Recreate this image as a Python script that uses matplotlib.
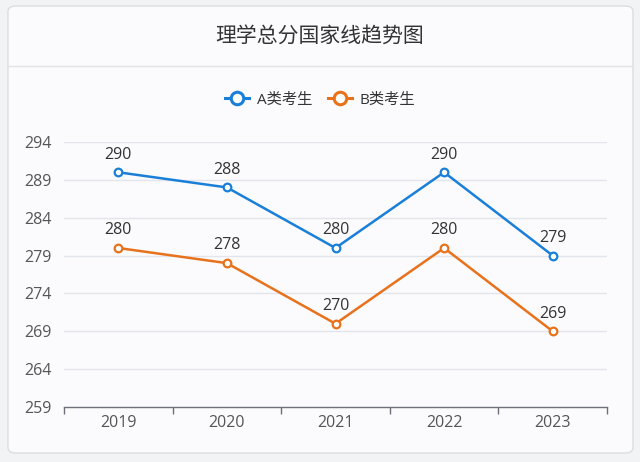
import matplotlib
matplotlib.use("Agg")
import matplotlib.pyplot as plt
from matplotlib.patches import FancyBboxPatch
from matplotlib.lines import Line2D
import numpy as np

plt.rcParams['font.family'] = ['Open Sans', 'Noto Sans CJK SC', 'DejaVu Sans']
CJK = ['Noto Sans CJK SC', 'DejaVu Sans']

title = "理学总分国家线趋势图"
years = ["2019", "2020", "2021", "2022", "2023"]
series_names = ["A类考生", "B类考生"]
a_values = [290, 288, 280, 290, 279]
b_values = [280, 278, 270, 280, 269]
y_ticks = [259, 264, 269, 274, 279, 284, 289, 294]

colors = ["#1a7fd8", "#e8721c"]

fig = plt.figure(figsize=(6.4, 4.62), dpi=100)
fig.patch.set_facecolor("#f2f3f5")

# card
card = FancyBboxPatch((8/640, 1-453/462), (633-8)/640, (453-6)/462,
                      boxstyle="round,pad=0,rounding_size=0.012",
                      transform=fig.transFigure, facecolor="#fbfbfd",
                      edgecolor="#dcdde2", linewidth=1.0, zorder=-10)
fig.patches.append(card)
fig.add_artist(Line2D([8/640, 633/640], [1-66/462, 1-66/462], transform=fig.transFigure,
                      color="#e2e3e8", linewidth=1.0, zorder=-9))

fig.text(0.5, 1-36/462, title, ha="center", va="center", fontsize=15,
         color="#333333", family=CJK)

ax = fig.add_axes([64/640, 1-407/462, (607-64)/640, (407-142)/462])
ax.set_zorder(5)
ax.set_facecolor("none")
x = np.arange(len(years))
handles = []
for vals, c, name in zip([a_values, b_values], colors, series_names):
    ax.plot(x, vals, color=c, linewidth=1.8, marker="o", markersize=5.5,
            markerfacecolor="white", markeredgecolor=c, markeredgewidth=1.6,
            zorder=3, clip_on=False)
    handles.append(Line2D([], [], color=c, linewidth=2.2, marker="o", markersize=9,
                          markerfacecolor="white", markeredgecolor=c,
                          markeredgewidth=2.2, label=name))
    for xi, v in zip(x, vals):
        ax.annotate(str(v), (xi, v), xytext=(0, 7), textcoords="offset points",
                    ha="center", va="bottom", fontsize=11.5, color="#333333")

ax.set_xlim(-0.5, len(years) - 0.5)
ax.set_ylim(y_ticks[0], y_ticks[-1])
ax.set_yticks(y_ticks)
ax.set_yticklabels([str(t) for t in y_ticks], fontsize=11.5, color="#555555")
ax.set_xticks(x)
ax.set_xticklabels(years, fontsize=11.5, color="#555555")
ax.set_xticks(np.arange(-0.5, len(years)), minor=True)
ax.tick_params(axis="x", which="major", length=0, pad=6)
ax.tick_params(axis="x", which="minor", length=5, color="#6e7079", width=1)
ax.tick_params(axis="y", length=0, pad=9)
for s in ["top", "right", "left"]:
    ax.spines[s].set_visible(False)
ax.spines["bottom"].set_color("#6e7079")
ax.spines["bottom"].set_linewidth(1.0)
for t in y_ticks[1:]:
    ax.axhline(t, color="#e3e5ec", linewidth=1.0, zorder=0)

fig.legend(handles=handles, loc="center", bbox_to_anchor=(0.5, 1-100/462), ncol=2,
           frameon=False, fontsize=11, handlelength=1.6, handletextpad=0.5,
           columnspacing=1.0, labelcolor="#333333")

fig.savefig("out.png", dpi=100, facecolor=fig.get_facecolor())
